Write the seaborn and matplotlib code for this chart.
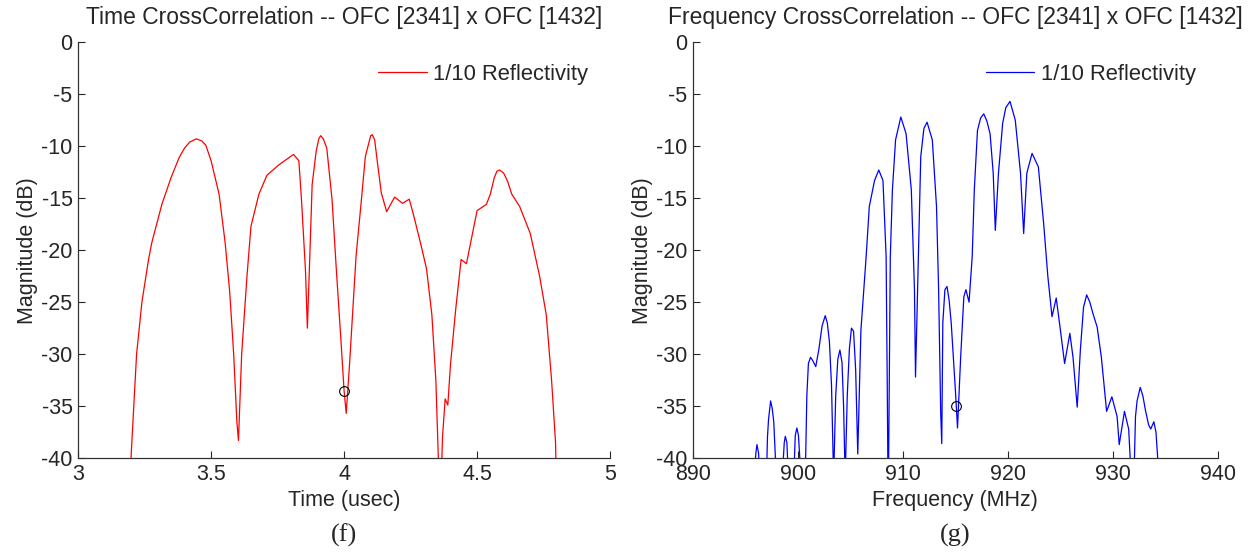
"""
Time and frequency cross-correlation of two OFC codes (1/10 reflectivity).
"""

import matplotlib
matplotlib.use('Agg')
import matplotlib.pyplot as plt
import seaborn as sns

#  Data (values below -40 dB are clipped by the axes)

#  Time cross-correlation (usec, dB)
time_us = [3.19, 3.20, 3.22, 3.24, 3.265, 3.277, 3.315, 3.35, 3.38, 3.40, 3.42, 3.445,
           3.465, 3.48, 3.50, 3.53, 3.553, 3.57, 3.585, 3.597, 3.603, 3.615, 3.635, 3.65,
           3.68, 3.71, 3.755, 3.81, 3.83, 3.84, 3.855, 3.862, 3.87, 3.88, 3.895, 3.905,
           3.912, 3.922, 3.935, 3.955, 3.97, 3.99, 4.0, 4.008, 4.02, 4.045, 4.065, 4.08,
           4.092, 4.1, 4.106, 4.115, 4.125, 4.14, 4.16, 4.19, 4.22, 4.245, 4.26, 4.29,
           4.31, 4.33, 4.345, 4.355, 4.362, 4.37, 4.38, 4.39, 4.40, 4.42, 4.44, 4.46,
           4.50, 4.535, 4.55, 4.565, 4.575, 4.585, 4.60, 4.615, 4.63, 4.66, 4.70, 4.735,
           4.76, 4.78, 4.795, 4.80]
time_db = [-45, -39.5, -30, -25, -20.9, -19.3, -15.6, -13, -11.1, -10.2, -9.6, -9.3,
           -9.5, -9.9, -11.4, -14.6, -19.3, -24, -30, -36.5, -38.3, -30, -22.5, -17.7,
           -14.6, -12.8, -11.8, -10.8, -11.4, -15.2, -22, -27.5, -21.5, -13.7, -10.5, -9.3,
           -9.0, -9.3, -10.2, -15.2, -21.5, -29.4, -33.5, -35.7, -31.2, -20.6, -15.2, -11.0,
           -9.8, -9.0, -8.9, -9.4, -11.5, -14.5, -16.3, -14.9, -15.5, -15.1, -16.5, -19.6,
           -21.8, -26.2, -32.5, -40.5, -45, -38, -34.3, -34.9, -31, -25.6, -20.9, -21.3,
           -16.2, -15.6, -14.6, -13.0, -12.4, -12.3, -12.6, -13.4, -14.6, -15.8, -18.4, -22.5,
           -26.2, -32.5, -38.5, -45]
time_mark = [4.0, -33.5]

#  Frequency cross-correlation (MHz, dB)
freq_mhz = [895.8, 896.0, 896.1, 896.25, 896.4, 897.0, 897.1, 897.2, 897.4, 897.55,
            897.7, 897.95, 898.5, 898.7, 898.8, 898.95, 899.1, 899.6, 899.75, 899.9,
            900.05, 900.3, 900.7, 900.85, 901.0, 901.2, 901.4, 901.7, 902.0, 902.3,
            902.6, 902.8, 903.0, 903.2, 903.4, 903.6, 903.8, 904.0, 904.2, 904.35,
            904.5, 904.7, 904.9, 905.1, 905.3, 905.5, 905.7, 906.0, 906.5, 906.8,
            907.3, 907.7, 908.1, 908.4, 908.5, 908.6, 908.8, 909.0, 909.3, 909.8,
            910.3, 910.8, 911.1, 911.2, 911.4, 911.7, 912.0, 912.3, 912.8, 913.2,
            913.4, 913.6, 913.7, 913.8, 914.0, 914.2, 914.4, 914.6, 915.0, 915.2,
            915.5, 915.8, 916.0, 916.3, 916.6, 916.8, 917.1, 917.4, 917.7, 918.0,
            918.3, 918.6, 918.8, 919.1, 919.5, 919.8, 920.2, 920.7, 921.2, 921.5,
            921.8, 922.3, 922.9, 923.4, 923.8, 924.2, 924.6, 925.0, 925.4, 925.9,
            926.2, 926.6, 926.9, 927.2, 927.5, 927.8, 928.1, 928.5, 928.9, 929.4,
            929.9, 930.4, 930.6, 931.1, 931.5, 931.75, 932.0, 932.15, 932.3, 932.6,
            932.85, 933.1, 933.4, 933.6, 933.9, 934.1, 934.4]
freq_db = [-42, -39.5, -38.7, -39.5, -42, -42, -38, -36.3, -34.5, -35.2,
           -36.5, -42, -42, -38.5, -37.9, -38.5, -42, -42, -37.8, -37.1,
           -37.8, -42, -42, -34, -30.9, -30.3, -30.6, -31.2, -29.5, -27.3,
           -26.3, -27.0, -28.8, -33, -42, -34, -30.5, -29.6, -30.8, -35,
           -42, -34, -29.5, -27.5, -27.8, -31.5, -39.6, -27.7, -20.6, -15.8,
           -13.3, -12.3, -13.3, -20.6, -31.9, -45, -20.6, -14.2, -9.4, -7.2,
           -8.8, -14.2, -23.8, -32.2, -23.8, -11, -8.3, -7.7, -9.4, -15.8,
           -23.8, -35.7, -38.6, -27.0, -23.8, -23.5, -24.8, -27.0, -33.5, -37.1,
           -30.3, -24.5, -23.8, -25.0, -20.6, -14.2, -8.5, -7.3, -6.9, -7.6,
           -8.8, -12.6, -18.1, -12.6, -7.8, -6.3, -5.7, -7.5, -12.6, -18.4,
           -12.6, -10.7, -12.0, -17.4, -22.5, -26.4, -24.6, -27.7, -30.9, -28.0,
           -30.3, -35.1, -29.6, -25.5, -24.3, -25.0, -26.1, -27.4, -30.3, -35.5,
           -34.1, -36.0, -38.7, -35.5, -37.2, -42, -42, -36, -34.5, -33.2,
           -34.0, -35.4, -36.8, -37.2, -36.5, -37.5, -42]
freq_mark = [915.1, -35.0]

#  Style
sns.set_style('ticks')
plt.rcParams['font.family'] = ['Liberation Sans', 'DejaVu Sans']
plt.rcParams['axes.unicode_minus'] = False

#  Create figure
fig = plt.figure(figsize=(12.53, 5.54), dpi=100)
ax1 = fig.add_axes([0.0623, 0.173, 0.4246, 0.751])
ax2 = fig.add_axes([0.553, 0.173, 0.419, 0.751])

panels = [
    (ax1, time_us, time_db, time_mark, 'red', (3, 5), [3, 3.5, 4, 4.5, 5],
     ['3', '3.5', '4', '4.5', '5'], 'Time (usec)',
     'Time CrossCorrelation -- OFC [2341] x OFC [1432]', '(f)'),
    (ax2, freq_mhz, freq_db, freq_mark, 'blue', (890, 940), [890, 900, 910, 920, 930, 940],
     ['890', '900', '910', '920', '930', '940'], 'Frequency (MHz)',
     'Frequency CrossCorrelation -- OFC [2341] x OFC [1432]', '(g)'),
]

for ax, xs, ys, mark, col, xlim, xt, xtl, xlab, title, tag in panels:
    sns.lineplot(x=xs, y=ys, ax=ax, color=col, lw=0.9, sort=False, estimator=None,
                 label='1/10 Reflectivity')
    ax.plot(mark[0], mark[1], marker='o', ms=7, mfc='none', mec='black', mew=0.8)
    ax.set_xlim(*xlim)
    ax.set_ylim(-40, 0)
    ax.set_xticks(xt)
    ax.set_xticklabels(xtl)
    ax.set_yticks(range(-40, 1, 5))
    ax.tick_params(direction='in', length=5, width=0.8, labelsize=15.5, pad=4)
    sns.despine(ax=ax)
    for s in ['left', 'bottom']:
        ax.spines[s].set_linewidth(0.9)
        ax.spines[s].set_color('#333333')
    ax.set_xlabel(xlab, fontsize=15.5, labelpad=4)
    ax.set_ylabel('Magnitude (dB)', fontsize=15.5, labelpad=2)
    ax.set_title(title, fontsize=16.5, pad=13)
    ax.legend(loc='upper right', frameon=False, fontsize=15.8, handlelength=2.2,
              handletextpad=0.3, borderaxespad=0.6)
    ax.text(0.5, -0.185, tag, transform=ax.transAxes, ha='center', va='center',
            fontsize=19, family=['Liberation Serif', 'DejaVu Serif'])

plt.savefig('out.png', dpi=100)
